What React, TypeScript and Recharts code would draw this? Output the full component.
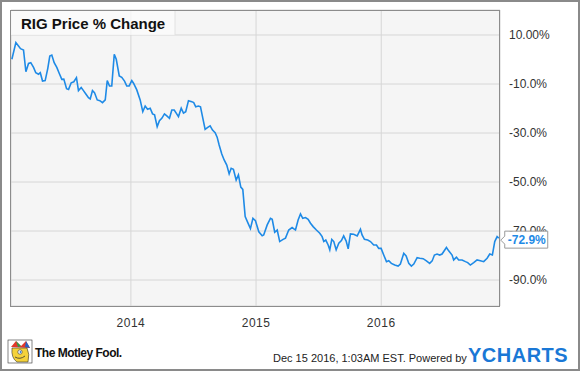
import React from "react";
import { LineChart, Line, XAxis, YAxis, CartesianGrid } from "recharts";

// x positions are fractional years, values are % change from start
const years = [
  2013.049, 2013.081, 2013.102, 2013.118, 2013.142, 2013.161, 2013.182, 2013.2, 2013.222, 2013.24,
  2013.262, 2013.276, 2013.294, 2013.315, 2013.336, 2013.352, 2013.368, 2013.387, 2013.408, 2013.427,
  2013.448, 2013.464, 2013.486, 2013.502, 2013.523, 2013.544, 2013.565, 2013.581, 2013.603, 2013.621,
  2013.64, 2013.661, 2013.675, 2013.693, 2013.709, 2013.731, 2013.752, 2013.773, 2013.795, 2013.811,
  2013.829, 2013.847, 2013.867, 2013.883, 2013.907, 2013.927, 2013.949, 2013.967, 2013.986, 2014.007,
  2014.021, 2014.047, 2014.074, 2014.095, 2014.114, 2014.133, 2014.154, 2014.173, 2014.189, 2014.21,
  2014.228, 2014.247, 2014.268, 2014.287, 2014.308, 2014.327, 2014.346, 2014.362, 2014.38, 2014.402,
  2014.42, 2014.438, 2014.46, 2014.486, 2014.502, 2014.518, 2014.54, 2014.556, 2014.572, 2014.593,
  2014.614, 2014.633, 2014.652, 2014.673, 2014.689, 2014.705, 2014.726, 2014.745, 2014.766, 2014.785,
  2014.801, 2014.819, 2014.841, 2014.859, 2014.878, 2014.894, 2014.913, 2014.934, 2014.955, 2014.975,
  2014.995, 2015.022, 2015.049, 2015.061, 2015.089, 2015.115, 2015.129, 2015.149, 2015.169, 2015.189,
  2015.216, 2015.235, 2015.261, 2015.288, 2015.315, 2015.336, 2015.355, 2015.373, 2015.395, 2015.416,
  2015.435, 2015.456, 2015.482, 2015.509, 2015.528, 2015.541, 2015.557, 2015.576, 2015.589, 2015.605,
  2015.621, 2015.64, 2015.661, 2015.682, 2015.7, 2015.72, 2015.736, 2015.754, 2015.78, 2015.808,
  2015.834, 2015.847, 2015.866, 2015.892, 2015.914, 2015.94, 2015.962, 2015.98, 2015.999, 2016.02,
  2016.042, 2016.06, 2016.081, 2016.108, 2016.135, 2016.153, 2016.18, 2016.199, 2016.22, 2016.241,
  2016.26, 2016.287, 2016.308, 2016.335, 2016.361, 2016.387, 2016.407, 2016.425, 2016.446, 2016.467,
  2016.486, 2016.521, 2016.539, 2016.566, 2016.579, 2016.601, 2016.619, 2016.646, 2016.673, 2016.691,
  2016.712, 2016.739, 2016.766, 2016.792, 2016.819, 2016.846, 2016.867, 2016.888, 2016.907, 2016.926,
  2016.939,
];

const changes = [
  0.1, 6.9, 5.5, 4.4, 3.9, -5.0, -1.6, -1.3, -3.2, -5.4,
  -6.0, -5.4, -8.8, -8.6, -3.6, 1.4, 1.8, -1.3, -3.2, -5.6,
  -8.1, -8.0, -11.9, -12.2, -9.5, -9.1, -7.4, -12.7, -11.4, -12.7,
  -14.1, -15.6, -16.1, -12.7, -13.5, -16.5, -16.8, -17.6, -16.5, -8.6,
  -10.8, -10.8, 2.1, 0.1, -6.7, -7.3, -8.8, -10.8, -10.8, -8.6,
  -9.7, -12.4, -16.5, -21.3, -19.0, -20.3, -19.9, -22.2, -22.6, -27.4,
  -25.0, -24.0, -22.2, -23.0, -24.0, -20.6, -20.6, -21.9, -23.3, -19.9,
  -21.9, -21.3, -16.8, -17.2, -17.6, -19.3, -19.0, -19.3, -23.3, -28.5,
  -27.7, -27.1, -28.8, -29.9, -31.7, -34.9, -38.6, -41.0, -43.1, -46.7,
  -44.4, -44.8, -49.2, -47.1, -52.1, -53.0, -64.1, -66.6, -69.0, -64.8,
  -65.8, -70.3, -71.9, -71.6, -67.5, -64.8, -65.2, -70.5, -69.6, -74.3,
  -73.4, -72.9, -69.6, -68.6, -69.6, -65.5, -63.0, -64.8, -64.5, -65.2,
  -66.8, -68.2, -69.6, -70.9, -72.3, -74.3, -73.7, -75.7, -77.7, -73.4,
  -74.3, -77.7, -75.0, -73.9, -72.0, -74.1, -77.3, -71.2, -71.3, -72.0,
  -69.3, -71.6, -73.4, -73.7, -74.3, -75.7, -75.7, -77.1, -77.1, -79.8,
  -82.5, -82.1, -83.2, -83.9, -84.3, -83.5, -79.1, -80.2, -83.2, -84.3,
  -83.5, -80.9, -81.1, -81.3, -82.2, -83.2, -82.2, -79.8, -79.4, -79.8,
  -79.4, -76.7, -78.1, -79.8, -81.8, -80.7, -81.8, -81.8, -82.5, -82.9,
  -83.9, -82.9, -81.8, -82.1, -82.5, -81.1, -79.4, -79.8, -74.3, -72.3,
  -72.9,
];

const yearTicks = [2014, 2015, 2016];
const pctTicks = [10, -10, -30, -50, -70, -90];

const data = years.map((t, i) => ({ t, v: changes[i] }));
const lastIndex = data.length - 1;

const BLUE = "#1e8ae6";
const FONT = "Arial, 'Liberation Sans', sans-serif";

function fmtPct(v: number) {
  return v === 10 ? "10.00%" : `${v.toFixed(1)}%`;
}

function EndLabel(props: any) {
  const { x, y, index, value } = props;
  if (index !== lastIndex) return null;
  const ax = x + 2;
  const bx = x + 6;
  return (
    <g>
      <path
        d={`M${bx} ${y - 7} L${bx + 43} ${y - 7} L${bx + 43} ${y + 10} L${bx} ${y + 10} L${bx} ${y + 6} L${ax} ${y + 2} L${bx} ${y - 2} Z`}
        fill="#fff"
        stroke="#9a9a9a"
        strokeWidth={1}
      />
      <text x={bx + 3} y={y + 6} fontSize={12} fontWeight="bold" fill={BLUE} fontFamily={FONT}>
        {`${value.toFixed(1)}%`}
      </text>
    </g>
  );
}

function MotleyLogo() {
  return (
    <g transform="translate(8,340)">
      <rect x={0} y={0} width={24} height={23} fill="#fff" stroke="#333" strokeWidth={0.6} />
      <path d="M3 7 L8 1 L13 6 L18 1 L22 8 Z" fill="#e2382a" />
      <path d="M8 1 L13 6 L10 7 Z" fill="#2a9d4a" />
      <path d="M18 1 L22 8 L17 7 Z" fill="#2463c4" />
      <path d="M4 8 Q3 18 9 22 L20 22 Q22 14 19 8 Z" fill="#f4d23a" stroke="#333" strokeWidth={0.6} />
      <circle cx={12} cy={12} r={2.2} fill="#fff" stroke="#333" strokeWidth={0.6} />
      <circle cx={12.5} cy={12} r={0.9} fill="#2a7ed8" />
      <path d="M7 17 Q12 20 17 16" fill="none" stroke="#333" strokeWidth={0.8} />
    </g>
  );
}

export default function App() {
  return (
    <div
      style={{
        position: "absolute",
        left: 0,
        top: 0,
        width: 580,
        height: 371,
        background: "#fff",
        boxSizing: "border-box",
        border: "2px solid #8a8a8a",
        overflow: "hidden",
      }}
    >
      <div style={{ position: "absolute", left: -2, top: -2 }}>
        <LineChart
          width={580}
          height={371}
          data={data}
          margin={{ top: 10, right: 0, bottom: 35, left: 11 }}
        >
          <CartesianGrid stroke="#d6d6d6" fill="#f5f5f5" />
          <XAxis
            dataKey="t"
            type="number"
            domain={[2013.042, 2016.949]}
            ticks={yearTicks}
            tickFormatter={(v) => String(v)}
            axisLine={false}
            tickLine={false}
            tickMargin={6}
            height={30}
            tick={{ fontSize: 12, fill: "#333", fontFamily: FONT, letterSpacing: 0.5 }}
          />
          <YAxis
            orientation="right"
            type="number"
            domain={[-100.6, 20.2]}
            ticks={pctTicks}
            tickFormatter={fmtPct}
            axisLine={false}
            tickLine={false}
            tickMargin={3}
            width={80}
            tick={{ fontSize: 12, fill: "#333", fontFamily: FONT, textAnchor: "start" }}
          />
          <Line
            type="linear"
            dataKey="v"
            stroke={BLUE}
            strokeWidth={1.6}
            dot={false}
            isAnimationActive={false}
            label={<EndLabel />}
          />
        </LineChart>
      </div>
      <svg
        width={580}
        height={371}
        style={{ position: "absolute", left: -2, top: -2, pointerEvents: "none" }}
      >
        <rect x={11} y={11} width={164} height={24} fill="#fbfbfb" fillOpacity={0.75} />
        <line x1={175} y1={11} x2={175} y2={35} stroke="#e2e2e2" />
        <text x={21} y={29} fontSize={15} fontWeight="bold" fill="#111" fontFamily={FONT}>
          RIG Price % Change
        </text>
        <rect x={10.5} y={10.5} width={489} height={296} fill="none" stroke="#8c8c8c" />
        <MotleyLogo />
        <text
          x={35}
          y={357}
          fontSize={12}
          fontWeight="bold"
          fill="#111"
          fontFamily="'Liberation Sans Narrow', Arial, sans-serif"
          letterSpacing={-0.5}
        >
          The Motley Fool.
        </text>
        <text x={273} y={362} fontSize={11} fill="#222" fontFamily={FONT}>
          Dec 15 2016, 1:03AM EST.  Powered by
        </text>
        <text
          x={468}
          y={362}
          fontSize={20}
          fontWeight="bold"
          fill="#1a78d6"
          fontFamily={FONT}
          letterSpacing={0.5}
        >
          YCHARTS
        </text>
      </svg>
    </div>
  );
}
